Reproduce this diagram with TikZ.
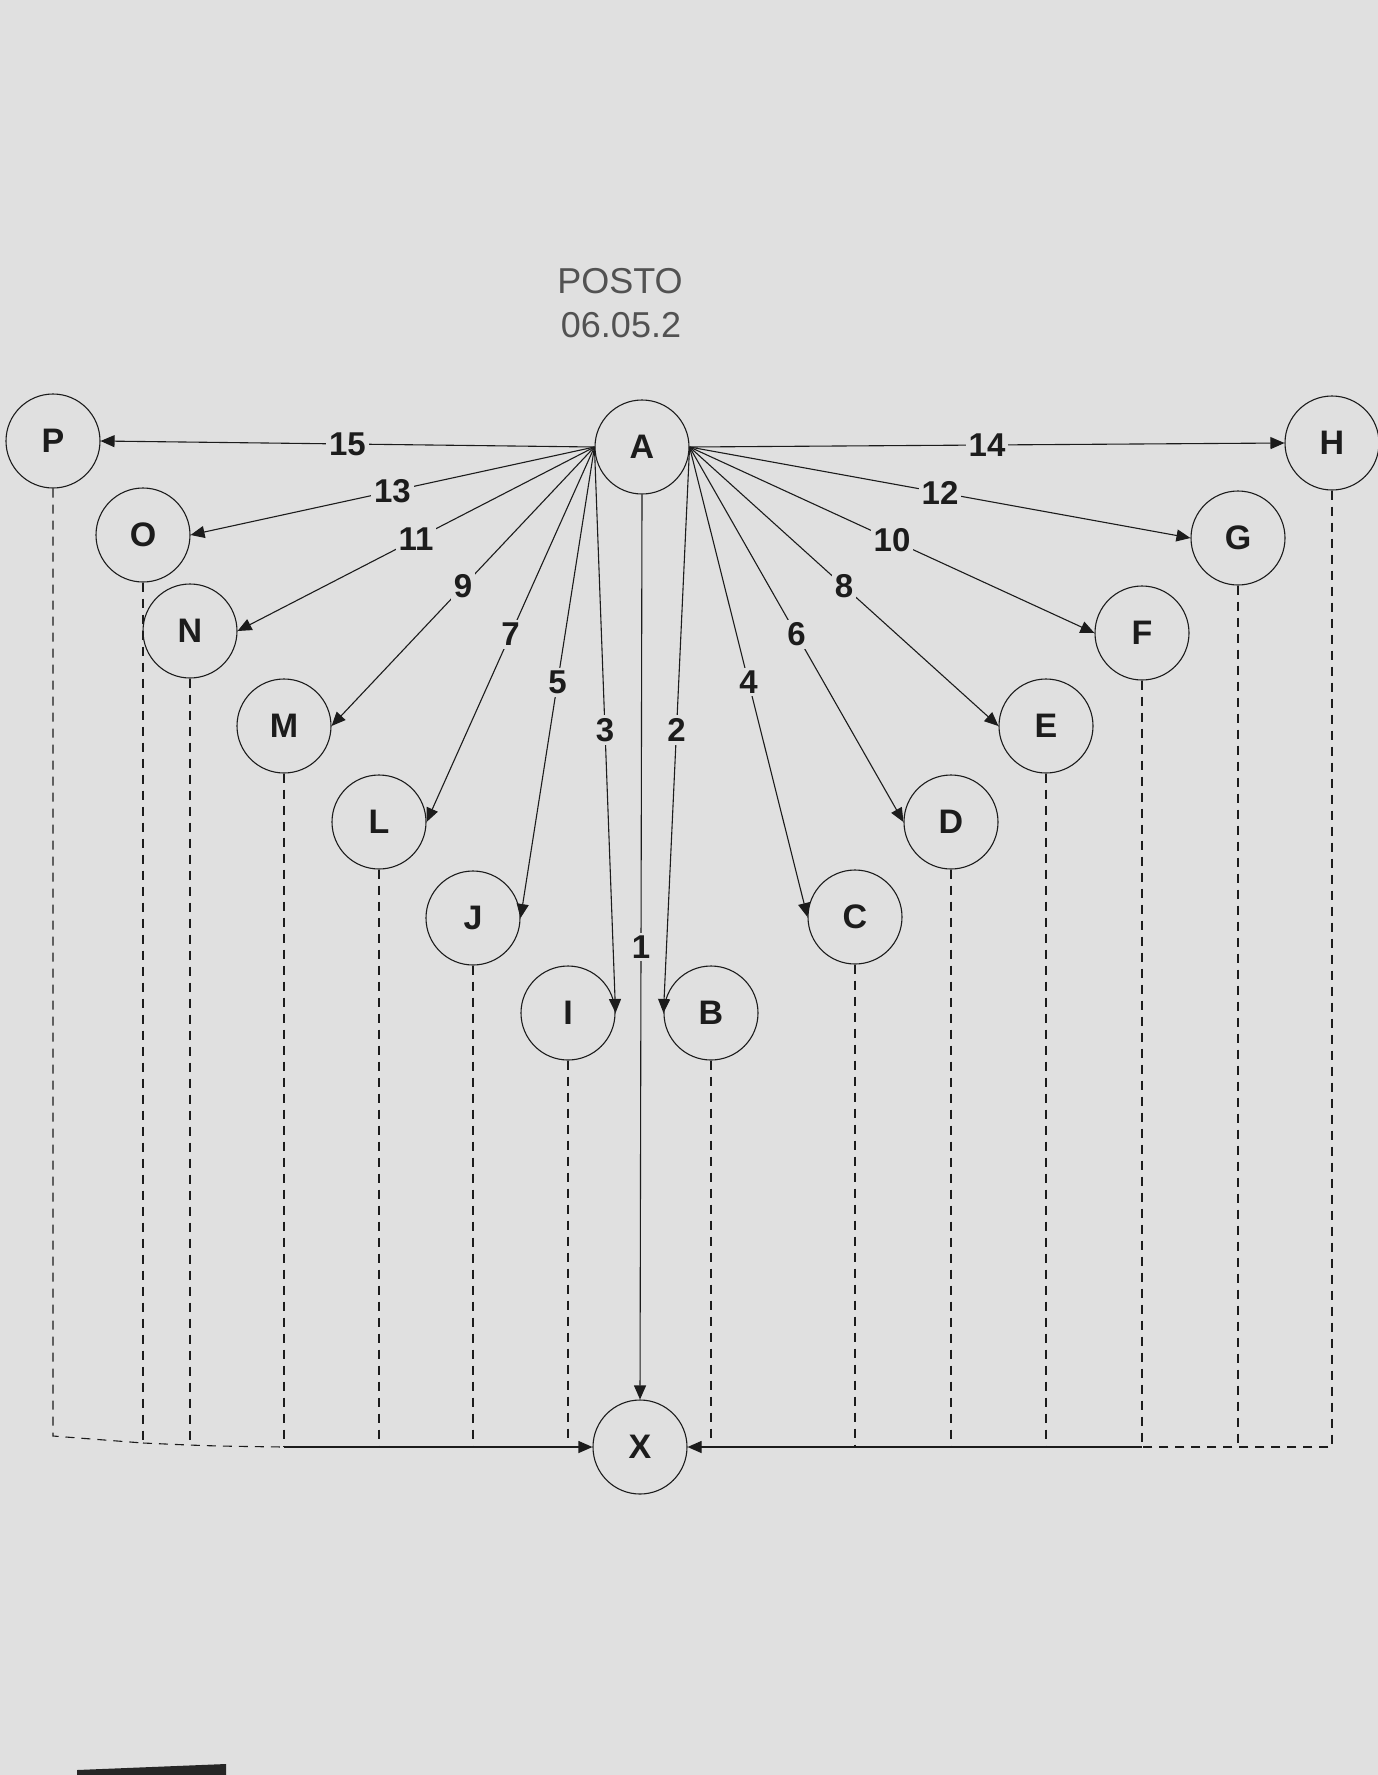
\documentclass[tikz,border=0pt]{standalone}
\usepackage{fontspec}
\setmainfont{Liberation Sans}
\usetikzlibrary{arrows.meta}
\definecolor{bg}{RGB}{224,224,224}
\definecolor{ink}{RGB}{28,28,28}
\definecolor{postogray}{RGB}{82,82,82}
\begin{document}
\begin{tikzpicture}[x=1pt,y=-1pt,
  circ/.style={circle,draw=ink,line width=1.1pt,minimum size=94pt,inner sep=0pt,
    font=\fontsize{34}{40}\selectfont\bfseries,text=ink},
  lbl/.style={fill=bg,inner sep=3pt,font=\fontsize{33}{40}\selectfont\bfseries,text=ink},
  arr/.style={draw=ink,line width=1.1pt,-{Triangle[length=14pt,width=12pt]}},
  dsh/.style={draw=ink,line width=1.1pt,dash pattern=on 9pt off 7pt},
  posto/.style={font=\fontsize{36}{44}\selectfont,text=postogray,anchor=base}]
\useasboundingbox (0,0) rectangle (1378,1775);
\fill[bg] (0,0) rectangle (1378,1775);
\fill[black!85] (77,1770) -- (226,1764) -- (226,1775) -- (77,1775) -- cycle;

% title
\node[posto] (t1) at (620,293) {POSTO};
\node[posto] (t2) at (621,337) {06.05.2};

% nodes
\node[circ] (A) at (642,447) {A};
\node[circ] (P) at (53,441) {P};
\node[circ] (O) at (143,535) {O};
\node[circ] (N) at (190,631) {N};
\node[circ] (M) at (284,726) {M};
\node[circ] (L) at (379,822) {L};
\node[circ] (J) at (473,918) {J};
\node[circ] (I) at (568,1013) {I};
\node[circ] (B) at (711,1013) {B};
\node[circ] (C) at (855,917) {C};
\node[circ] (D) at (951,822) {D};
\node[circ] (E) at (1046,726) {E};
\node[circ] (F) at (1142,633) {F};
\node[circ] (G) at (1238,538) {G};
\node[circ] (H) at (1332,443) {H};
\node[circ] (X) at (640,1447) {X};

% arrows from A
\draw[arr] (A.west) -- node[lbl]{15} (P.east);
\draw[arr] (A.west) -- node[lbl]{13} (O.east);
\draw[arr] (A.west) -- node[lbl]{11} (N.east);
\draw[arr] (A.west) -- node[lbl]{9} (M.east);
\draw[arr] (A.west) -- node[lbl]{7} (L.east);
\draw[arr] (A.west) -- node[lbl]{5} (J.east);
\draw[arr] (A.west) -- node[lbl]{3} (I.east);
\draw[arr] (A.east) -- node[lbl]{2} (B.west);
\draw[arr] (A.east) -- node[lbl]{4} (C.west);
\draw[arr] (A.east) -- node[lbl]{6} (D.west);
\draw[arr] (A.east) -- node[lbl]{8} (E.west);
\draw[arr] (A.east) -- node[lbl]{10} (F.west);
\draw[arr] (A.east) -- node[lbl]{12} (G.west);
\draw[arr] (A.east) -- node[lbl]{14} (H.west);
\draw[arr] (A.south) -- node[lbl]{1} (X.north);

% bus coordinates
\coordinate (bP) at (53,1436);
\coordinate (bO) at (143,1443);
\coordinate (bN) at (190,1445);
\coordinate (bM) at (284,1447);
\coordinate (bL) at (379,1447);
\coordinate (bJ) at (473,1447);
\coordinate (bI) at (568,1438);
\coordinate (bB) at (711,1438);
\coordinate (bC) at (855,1447);
\coordinate (bD) at (951,1447);
\coordinate (bE) at (1046,1447);
\coordinate (bF) at (1142,1447);
\coordinate (bG) at (1238,1447);
\coordinate (bH) at (1332,1447);

% left dashed drops
\draw[dsh] (P.south) -- (bP) -- (bO);
\draw[dsh] (bO) .. controls (210,1446) .. (bM);
\draw[dsh] (O.south) -- (bO);
\draw[dsh] (N.south) -- (bN);
\draw[dsh] (M.south) -- (bM);
\draw[dsh] (L.south) -- (bL);
\draw[dsh] (J.south) -- (bJ);
\draw[dsh] (I.south) -- (bI);
\draw[arr] (bM) -- (X.west);

% right dashed drops
\draw[dsh] (H.south) -- (bH) -- (bF);
\draw[dsh] (G.south) -- (bG);
\draw[dsh] (F.south) -- (bF);
\draw[dsh] (E.south) -- (bE);
\draw[dsh] (D.south) -- (bD);
\draw[dsh] (C.south) -- (bC);
\draw[dsh] (B.south) -- (bB);
\draw[arr] (bF) -- (X.east);
\end{tikzpicture}
\end{document}
